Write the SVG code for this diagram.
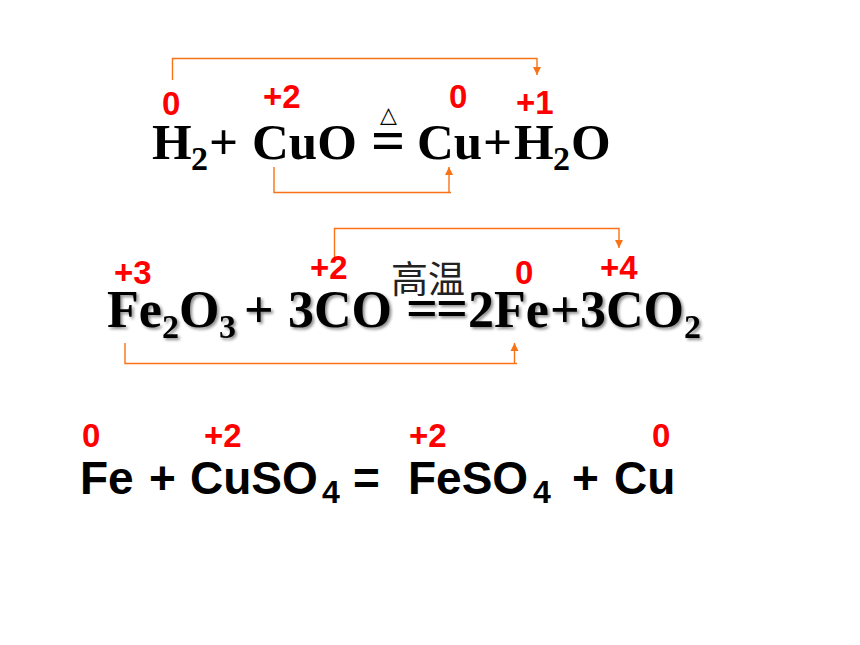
<svg xmlns="http://www.w3.org/2000/svg" width="860" height="645" viewBox="0 0 860 645">
<defs>
<marker id="arrow" markerWidth="9" markerHeight="9" refX="8" refY="4.500" orient="auto" markerUnits="userSpaceOnUse"><path d="M0,0.500 L8,4.500 L0,8.500 Z" fill="#f97316"/></marker>
<filter id="shadow" x="-5%" y="-20%" width="110%" height="140%"><feDropShadow dx="2" dy="2" stdDeviation="1.600" flood-color="#000" flood-opacity="0.45"/></filter>
</defs>
<style>
.eq{font-family:"Liberation Serif",serif;font-weight:bold;font-size:51px;fill:#000}
.eq2{font-size:52px}
.sub{font-size:34px}
.sans{font-family:"Liberation Sans",sans-serif;font-weight:bold;font-size:46px;fill:#000}
.sanssub{font-size:32px}
.ox{font-family:"Liberation Sans",sans-serif;font-weight:bold;font-size:33px;fill:#f00}
.line{fill:none;stroke:#f97316;stroke-width:1.400}
.link{fill:none;stroke:#f97316;stroke-width:1.400;marker-end:url(#arrow)}
</style>
<rect width="860" height="645" fill="#fff"/>
<g id="connectors">
<path class="link" d="M172.500,80 V58.500 H537 V75"/>
<path class="line" d="M274,167 V192.500 H451"/>
<path class="link" d="M449,192.500 V167"/>
<path class="link" d="M334.500,257 V228.500 H619 V248"/>
<path class="line" d="M125,343 V363.500 H517"/>
<path class="link" d="M514.500,363.500 V343"/>
</g>
<g id="equation1">
<text class="eq" x="152" y="159">H</text><text class="eq sub" x="191" y="170">2</text><text class="eq" x="209" y="159">+</text>
<text class="eq" x="252" y="159">CuO</text>
<text class="eq" font-size="60" style="font-size:60px" x="371" y="159.500">=</text>
<text x="380" y="122" font-family="'DejaVu Sans',sans-serif" font-size="22" fill="#000">△</text>
<text class="eq" x="417" y="159">Cu</text><text class="eq" x="483" y="159">+</text>
<text class="eq" x="514" y="159">H</text><text class="eq sub" x="553" y="170">2</text><text class="eq" x="571" y="159">O</text>
</g>
<g id="equation2" filter="url(#shadow)">
<text class="eq eq2" x="107" y="327">Fe</text><text class="eq sub" x="162" y="338">2</text><text class="eq eq2" x="179" y="327">O</text><text class="eq sub" x="219" y="338">3</text>
<text class="eq eq2" x="244" y="327">+</text>
<text class="eq eq2" x="288" y="327">3CO</text>
<text class="eq" style="font-size:56px" x="406" y="327">=</text><text class="eq" style="font-size:56px" x="436" y="327">=</text>
<text class="eq eq2" x="468" y="327">2</text><text class="eq eq2" x="494" y="327">Fe</text><text class="eq eq2" x="550" y="327">+</text>
<text class="eq eq2" x="580" y="327">3CO</text><text class="eq sub" x="684" y="338">2</text>
</g>
<g id="condition2"><text x="391" y="293" font-family="'Noto Sans CJK SC',sans-serif" font-size="37" fill="#222">高温</text></g>
<g id="equation3">
<text class="sans" x="80" y="494">Fe</text>
<text class="sans" x="149" y="494">+</text>
<text class="sans" x="190" y="494">CuSO</text><text class="sans sanssub" x="322" y="503">4</text>
<text class="sans" x="353" y="494">=</text>
<text class="sans" x="408" y="494">FeSO</text><text class="sans sanssub" x="533" y="503">4</text>
<text class="sans" x="572" y="494">+</text>
<text class="sans" x="614" y="494">Cu</text>
</g>
<g id="oxidation-states">
<text class="ox" x="162" y="115">0</text><text class="ox" x="263" y="108">+2</text><text class="ox" x="449" y="108">0</text><text class="ox" x="516" y="114">+1</text>
<text class="ox" x="114" y="284">+3</text><text class="ox" x="310" y="279">+2</text><text class="ox" x="515" y="284">0</text><text class="ox" x="600" y="279">+4</text>
<text class="ox" x="82" y="447">0</text><text class="ox" x="204" y="447">+2</text><text class="ox" x="409" y="447">+2</text><text class="ox" x="652" y="447">0</text>
</g>
</svg>
